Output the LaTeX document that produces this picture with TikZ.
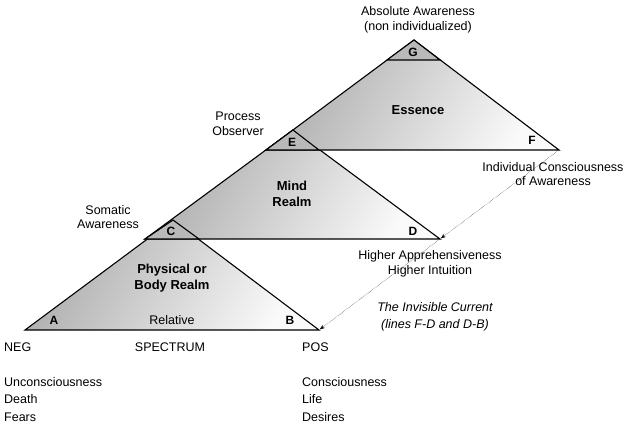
\documentclass[tikz,border=0pt]{standalone}
\usepackage{fontspec}
\setmainfont{Liberation Sans}
\usetikzlibrary{positioning, calc, arrows.meta}
\tikzset{
  realm/.style = {draw, line width=1.1pt, line join=miter, left color=gray!65, right color=gray!4, shading angle=60},
  tip/.style = {draw, line width=1.1pt, fill=gray!55},
  txt/.style = {font=\fontsize{12.5}{14.5}\selectfont, align=center, inner sep=0pt},
  corner/.style = {font=\fontsize{12}{13}\selectfont\bfseries, inner sep=0pt},
  realmtxt/.style = {font=\fontsize{13}{16}\selectfont\bfseries, align=center, inner sep=0pt},
  current/.style = {densely dotted, thin, -{Stealth[length=5pt]}, shorten >=1pt},
}
\begin{document}
\begin{tikzpicture}[x=1pt, y=-1pt]
  \useasboundingbox (0,0) rectangle (640,429);
  % corner points of the three realms
  \coordinate (A) at (25,330);  \coordinate (B) at (319,330);  \coordinate (T1) at (173,220);
  \coordinate (C1) at (145,239); \coordinate (D) at (440,239); \coordinate (T2) at (293,130);
  \coordinate (E1) at (266,150); \coordinate (F) at (559,150); \coordinate (T3) at (414,40);

  % realms
  \path[realm] (A) -- (B) -- (T1) -- cycle;
  \path[realm] (C1) -- (D) -- (T2) -- cycle;
  \path[realm] (E1) -- (F) -- (T3) -- cycle;
  \path[tip] (T1) -- (199,239) -- (C1) -- cycle;
  \path[tip] (T2) -- (319,150) -- (E1) -- cycle;
  \path[tip] (T3) -- (440,60) -- (387,60) -- cycle;

  % corner letters
  \node[corner] (a) at (54,320) {A};
  \node[corner] (b) at (290,320) {B};
  \node[corner] (c) at (171,231) {C};
  \node[corner] (d) at (413,231) {D};
  \node[corner] (e) at (292,142) {E};
  \node[corner] (f) at (532,140) {F};
  \node[corner] (g) at (413,52) {G};

  % realm names
  \node[realmtxt] (body) at (172,278) {Physical or\\Body Realm};
  \node[realmtxt] (mind) at (292,194) {Mind\\Realm};
  \node[realmtxt] (essence) at (418,110) {Essence};

  % side labels
  \node[txt] (absolute) at (418,20) {Absolute Awareness\\(non individualized)};
  \node[txt] (process) at (238,124) {Process\\Observer};
  \node[txt] (somatic) at (108,217) {Somatic\\Awareness};
  \node[txt] (individual) at (553,174) {Individual Consciousness\\of Awareness};
  \node[txt] (higher) at (430,264) {Higher Apprehensiveness\\Higher Intuition};
  \node[txt, font=\fontsize{12.5}{17}\selectfont\itshape] (invisible) at (435,317) {The Invisible Current\\(lines F-D and D-B)};
  \node[txt] (relative) at (172,320) {Relative};

  % spectrum
  \node[txt, anchor=west] (neg) at (4,347) {NEG};
  \node[txt] (spectrum) at (170,347) {SPECTRUM};
  \node[txt, anchor=west] (pos) at (302,347) {POS};
  \node[txt, anchor=north west, align=left, font=\fontsize{12.5}{17.5}\selectfont] (negs) at (4,377) {Unconsciousness\\Death\\Fears};
  \node[txt, anchor=north west, align=left, font=\fontsize{12.5}{17.5}\selectfont] (poss) at (302,377) {Consciousness\\Life\\Desires};

  % invisible current
  \draw[current] (F) -- (D);
  \draw[current] (D) -- (B);
\end{tikzpicture}
\end{document}
